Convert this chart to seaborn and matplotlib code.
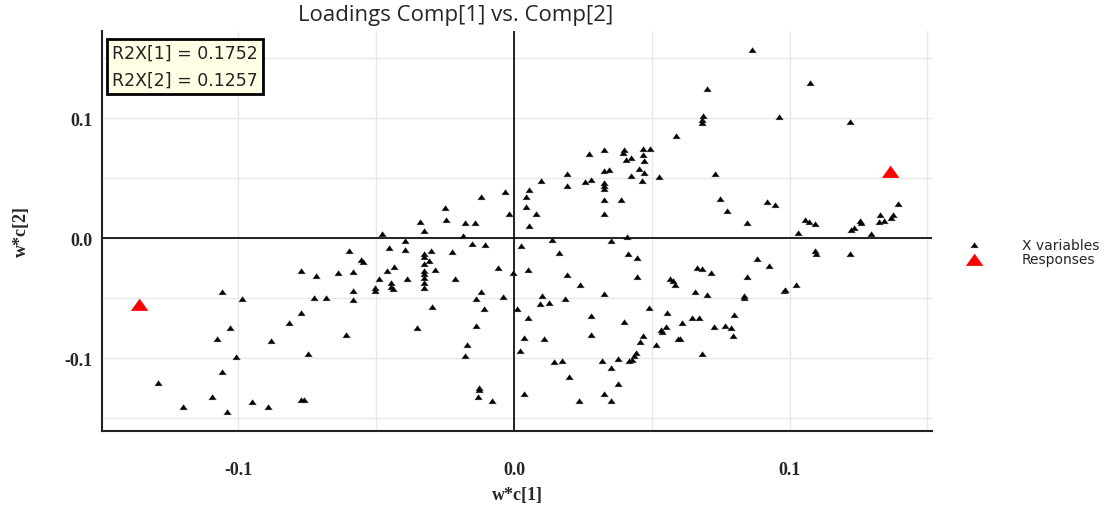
import numpy as np
import pandas as pd
import matplotlib
matplotlib.use("Agg")
import matplotlib.pyplot as plt
import seaborn as sns
from matplotlib.ticker import MultipleLocator, FuncFormatter

# ---------------- data ----------------
x_vars_w1 = [
    -0.0599, -0.0555, -0.0547, -0.0772, -0.0718, -0.0640, -0.0583, -0.0489, -0.0504, -0.0503,
    -0.1061, -0.0987, -0.0726, -0.0682, -0.0583, -0.0583, -0.0773, -0.0815, -0.1030, -0.0610,
    -0.1079, -0.0883, -0.0746, -0.1010, -0.1061, -0.1293, -0.1097, -0.0773, -0.0762, -0.1202,
    -0.0951, -0.0893, -0.1041,
    -0.0478, -0.0394, -0.0452, -0.0394, -0.0342, -0.0325, -0.0252, -0.0247, -0.0185, -0.0179,
    -0.0142, -0.0120, -0.0032, -0.0017, -0.0152, -0.0105, -0.0300, -0.0226, -0.0325, -0.0325,
    -0.0310, -0.0325, -0.0436, -0.0462, -0.0288, -0.0325, -0.0325, -0.0389, -0.0325, -0.0325,
    -0.0325, -0.0446, -0.0446, -0.0438, -0.0215, -0.0058, -0.0004, 0.0052, -0.0121, -0.0137,
    -0.0041, -0.0299, -0.0110, 0.0011, 0.0052, -0.0352, -0.0137, 0.0036, -0.0169, -0.0179,
    -0.0126, -0.0126, -0.0132, -0.0079, 0.0036, 0.0021, 0.0026, 0.0042, 0.0042, 0.0056,
    0.0054, 0.0079, 0.0099, 0.0137, 0.0163, 0.0194, 0.0241, 0.0101, 0.0094, 0.0127,
    0.0184, 0.0110, 0.0146, 0.0173, 0.0200, 0.0236, 0.0194, 0.0194, 0.0273, 0.0325,
    0.0394, 0.0400, 0.0426, 0.0405, 0.0325, 0.0346, 0.0425, 0.0258, 0.0279, 0.0325,
    0.0325, 0.0325, 0.0325, 0.0389, 0.0325, 0.0352, 0.0410, 0.0415, 0.0446, 0.0446,
    0.0327, 0.0278, 0.0278, 0.0399, 0.0320, 0.0377, 0.0351, 0.0377, 0.0325, 0.0351,
    0.0442, 0.0435, 0.0427, 0.0418, 0.0457, 0.0467, 0.0489,
    0.0467, 0.0495, 0.0467, 0.0472, 0.0452, 0.0473, 0.0463, 0.0525, 0.0589, 0.0862,
    0.1073, 0.0699, 0.0685, 0.0681, 0.0681, 0.0962, 0.1219, 0.0730, 0.0747, 0.0773,
    0.0918, 0.0946, 0.0847, 0.1392, 0.1328, 0.1376, 0.1367, 0.1325, 0.1344, 0.1255,
    0.1258, 0.1234, 0.1223, 0.1296, 0.1055, 0.1069, 0.1092, 0.1030, 0.1092, 0.1095,
    0.1219, 0.0882, 0.0925, 0.0666, 0.0684, 0.0715, 0.0844, 0.0566, 0.0578, 0.0583,
    0.0657, 0.0699, 0.0833, 0.0835, 0.0980, 0.0985, 0.1024, 0.0557, 0.0610, 0.0646,
    0.0672, 0.0799, 0.0532, 0.0537, 0.0552, 0.0725, 0.0766, 0.0788, 0.0794, 0.0594,
    0.0604, 0.0514, 0.0683,
]
x_vars_w2 = [
    -0.0103, -0.0181, -0.0195, -0.0273, -0.0312, -0.0292, -0.0283, -0.0339, -0.0416, -0.0439,
    -0.0450, -0.0506, -0.0495, -0.0495, -0.0442, -0.0517, -0.0625, -0.0708, -0.0745, -0.0806,
    -0.0837, -0.0856, -0.0964, -0.0992, -0.1112, -0.1203, -0.1323, -0.1348, -0.1348, -0.1406,
    -0.1367, -0.1406, -0.1450,
    0.0036, -0.0023, -0.0083, -0.0095, 0.0136, 0.0061, 0.0254, 0.0155, 0.0019, 0.0128,
    0.0128, 0.0347, 0.0386, 0.0203, -0.0048, -0.0054, -0.0103, -0.0112, -0.0131, -0.0153,
    -0.0187, -0.0218, -0.0239, -0.0273, -0.0262, -0.0274, -0.0298, -0.0339, -0.0331, -0.0373,
    -0.0416, -0.0375, -0.0408, -0.0423, -0.0339, -0.0248, -0.0291, -0.0262, -0.0450, -0.0504,
    -0.0487, -0.0570, -0.0588, -0.0589, -0.0662, -0.0745, -0.0727, -0.0827, -0.0889, -0.0983,
    -0.1250, -0.1268, -0.1323, -0.1358, -0.1298, -0.0937, -0.0066, 0.0347, 0.0263, 0.0400,
    0.0100, 0.0203, 0.0473, -0.0012, -0.0120, -0.0306, -0.0389, -0.0478, -0.0550, -0.0542,
    -0.0503, -0.0837, -0.1028, -0.1020, -0.1158, -0.1358, 0.0538, 0.0438, 0.0705, 0.0733,
    0.0711, 0.0738, 0.0669, 0.0651, 0.0563, 0.0568, 0.0522, 0.0467, 0.0482, 0.0459,
    0.0433, 0.0413, 0.0319, 0.0319, 0.0201, -0.0023, 0.0008, -0.0133, -0.0163, -0.0323,
    -0.0462, -0.0645, -0.0808, -0.0695, -0.1020, -0.1008, -0.1083, -0.1212, -0.1298, -0.1358,
    -0.0954, -0.0985, -0.1014, -0.1022, -0.0864, -0.0818, -0.0581,
    0.0742, 0.0744, 0.0692, 0.0643, 0.0578, 0.0542, 0.0478, 0.0513, 0.0855, 0.1569,
    0.1292, 0.1244, 0.1017, 0.0988, 0.0958, 0.1008, 0.0972, 0.0532, 0.0325, 0.0230,
    0.0303, 0.0275, 0.0128, 0.0283, 0.0194, 0.0194, 0.0172, 0.0138, 0.0142, 0.0144,
    0.0128, 0.0088, 0.0069, 0.0036, 0.0153, 0.0138, 0.0119, 0.0047, -0.0108, -0.0131,
    -0.0131, -0.0173, -0.0229, -0.0249, -0.0260, -0.0289, -0.0321, -0.0341, -0.0358, -0.0388,
    -0.0450, -0.0470, -0.0500, -0.0479, -0.0441, -0.0435, -0.0387, -0.0625, -0.0708, -0.0668,
    -0.0662, -0.0643, -0.0768, -0.0783, -0.0737, -0.0737, -0.0735, -0.0745, -0.0818, -0.0841,
    -0.0838, -0.0891, -0.0964,
]
resp_w1 = [-0.1361, 0.1364]
resp_w2 = [-0.0556, 0.0550]

series_labels = ["X variables", "Responses"]
title_text = "Loadings Comp[1] vs. Comp[2]"
r2x_lines = ["R2X[1] = 0.1752", "R2X[2] = 0.1257"]
xlabel_text = "w*c[1]"
ylabel_text = "w*c[2]"

df_x = pd.DataFrame({"w1": x_vars_w1, "w2": x_vars_w2})
df_r = pd.DataFrame({"w1": resp_w1, "w2": resp_w2})

# ---------------- figure ----------------
sns.set_style("white")
plt.rcParams["font.family"] = ["DejaVu Sans"]

fig = plt.figure(figsize=(11.2, 5.1), dpi=100)
ax = fig.add_axes([102/1120, 1-432/510, (932-102)/1120, (432-32)/510])

ax.set_xlim(-0.1495, 0.1517)
ax.set_ylim(-0.1606, 0.1727)

ax.xaxis.set_major_locator(MultipleLocator(0.05))
ax.yaxis.set_major_locator(MultipleLocator(0.05))

def fmt(v, pos):
    k = v / 0.1
    if abs(k - round(k)) < 1e-6:
        r = round(k) * 0.1
        if abs(r) < 1e-9:
            return "0.0"
        return f"{r:.1f}"
    return ""

ax.xaxis.set_major_formatter(FuncFormatter(fmt))
ax.yaxis.set_major_formatter(FuncFormatter(fmt))

ax.grid(True, color="#e8e8e8", linewidth=1.0, zorder=0)
ax.set_axisbelow(True)

ax.axhline(0, color="black", linewidth=1.2, zorder=1)
ax.axvline(0, color="black", linewidth=1.2, zorder=1)

for s in ["top", "right"]:
    ax.spines[s].set_visible(False)
for s in ["left", "bottom"]:
    ax.spines[s].set_color("#222222")
    ax.spines[s].set_linewidth(1.5)

ax.tick_params(axis="both", direction="inout", length=7, width=1.0, color="#222222")
ax.tick_params(axis="x", pad=18)
ax.tick_params(axis="y", pad=3)
for lab in ax.get_xticklabels() + ax.get_yticklabels():
    lab.set_fontfamily("Liberation Serif")
    lab.set_fontweight("bold")
    lab.set_fontsize(13)

# wide, short triangle (the reference appears horizontally stretched)
tri = [(-1.0, -0.62), (1.0, -0.62), (0.0, 0.78)]

sns.scatterplot(data=df_x, x="w1", y="w2", marker=tri, s=30, color="black",
                edgecolor="#444444", linewidth=0.3, ax=ax, zorder=3, label=series_labels[0])
sns.scatterplot(data=df_r, x="w1", y="w2", marker=tri, s=150, color="#ff0000",
                edgecolor="#ff0000", linewidth=0.3, ax=ax, zorder=4, label=series_labels[1])

ax.set_xlabel(xlabel_text, fontfamily="Liberation Serif", fontweight="bold", fontsize=13, labelpad=6)
ax.set_ylabel(ylabel_text, fontfamily="Liberation Serif", fontweight="bold", fontsize=13, labelpad=25)

handles, labels = ax.get_legend_handles_labels()
if ax.legend_:
    ax.legend_.remove()
fig.legend(handles, labels, loc="center left", bbox_to_anchor=(962/1120, 1-253/510),
           frameon=False, prop={"family": "DejaVu Sans", "size": 10}, handletextpad=2.9,
           labelspacing=0.05, handlelength=1.0, borderaxespad=0)

fig.text(456/1120, 1-15/510, title_text, ha="center", va="center",
         fontfamily="Open Sans", fontsize=16)

ax.text((112-102)/830, 1-(45-32)/400, "\n".join(r2x_lines), transform=ax.transAxes,
        ha="left", va="top", fontfamily="DejaVu Sans", color="#222222",
        fontsize=12.5, linespacing=1.6, zorder=6,
        bbox=dict(boxstyle="square,pad=0.3", facecolor="#ffffe6", edgecolor="black", linewidth=2))

fig.savefig("out.png", dpi=100)
